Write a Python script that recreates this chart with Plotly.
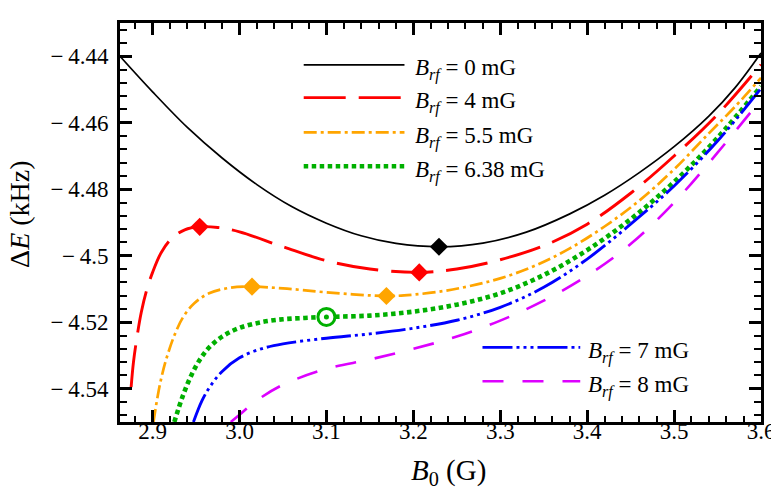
import plotly.graph_objects as go

FONT = "Liberation Serif"

# values (B0 in G, Delta E in kHz)
B0_X = [2.8625, 2.90, 2.94, 2.98, 3.02, 3.06, 3.10, 3.14, 3.18, 3.23,
        3.28, 3.33, 3.38, 3.42, 3.46, 3.50, 3.54, 3.57, 3.60]
B0_Y = [-4.4400, -4.4507, -4.4614, -4.4706, -4.4786, -4.4852, -4.4902, -4.4940, -4.4963, -4.4973,
        -4.4962, -4.4929, -4.4874, -4.4818, -4.4750, -4.4672, -4.4580, -4.4495, -4.4390]

B4_X = [2.8753, 2.878, 2.882, 2.887, 2.893, 2.900, 2.910, 2.922, 2.937, 2.954, 2.975, 3.00,
        3.05, 3.10, 3.15, 3.2068, 3.25, 3.30, 3.35, 3.40, 3.45, 3.50, 3.55, 3.60]
B4_Y = [-4.5395, -4.5320, -4.5245, -4.5170, -4.5105, -4.5050, -4.4990, -4.4948, -4.4922, -4.4913, -4.4915, -4.4928,
        -4.4973, -4.5015, -4.5040, -4.5050, -4.5040, -4.5012, -4.4970, -4.4905, -4.4812, -4.4700, -4.4575, -4.4425]

B55_X = [2.901, 2.906, 2.911, 2.917, 2.925, 2.935, 2.948, 2.965, 2.99, 3.0144, 3.05, 3.10, 3.169,
         3.20, 3.235, 3.265, 3.30, 3.34, 3.38, 3.42, 3.46, 3.50, 3.54, 3.57, 3.60]
B55_Y = [-4.5500, -4.5420, -4.5357, -4.5300, -4.5240, -4.5185, -4.5143, -4.5113, -4.5096, -4.5093, -4.5098, -4.5110, -4.5121,
         -4.5117, -4.5106, -4.5091, -4.5068, -4.5030, -4.4978, -4.4912, -4.4834, -4.4740, -4.4632, -4.4552, -4.4465]

B638_X = [2.925, 2.935, 2.945, 2.955, 2.965, 2.98, 3.00, 3.025, 3.05, 3.075, 3.10,
          3.15, 3.20, 3.25, 3.30, 3.35, 3.40, 3.45, 3.50, 3.55, 3.60]
B638_Y = [-4.5500, -4.5420, -4.5357, -4.5310, -4.5276, -4.5243, -4.5217, -4.5200, -4.5191, -4.5187, -4.5184,
          -4.5180, -4.5168, -4.5147, -4.5113, -4.5058, -4.4983, -4.4890, -4.4778, -4.4645, -4.4490]

B7_X = [2.947, 2.957, 2.967, 2.98, 3.00, 3.025, 3.05, 3.10, 3.15, 3.20, 3.25,
        3.30, 3.35, 3.40, 3.45, 3.50, 3.55, 3.60]
B7_Y = [-4.5500, -4.5435, -4.5390, -4.5348, -4.5307, -4.5280, -4.5265, -4.5248, -4.5235, -4.5218, -4.5194,
        -4.5155, -4.5095, -4.5010, -4.4905, -4.4790, -4.4655, -4.4497]

B8_X = [2.99, 3.00, 3.02, 3.05, 3.10, 3.15, 3.20, 3.25, 3.30, 3.35, 3.40, 3.45, 3.50, 3.55, 3.60]
B8_Y = [-4.5500, -4.5478, -4.5435, -4.5388, -4.5340, -4.5312, -4.5280, -4.5243, -4.5195, -4.5135,
        -4.5060, -4.4965, -4.4840, -4.4690, -4.4530]

# special points on the curves
MIN0_X, MIN0_Y = [3.2295], [-4.4973]
EXT4_X, EXT4_Y = [2.9542, 3.2068], [-4.4913, -4.5050]
EXT55_X, EXT55_Y = [3.0144, 3.1690], [-4.5093, -4.5121]
CRIT_X, CRIT_Y = [3.1], [-4.5184]

LABELS = ['0', '4', '5.5', '6.38', '7', '8']

Y_TICKS = [-4.54, -4.52, -4.50, -4.48, -4.46, -4.44]
Y_TICK_TEXT = ['\u2212\u20094.54', '\u2212\u20094.52', '\u2212\u20094.5',
               '\u2212\u20094.48', '\u2212\u20094.46', '\u2212\u20094.44']

RED = '#ff0000'
ORANGE = '#ffa500'
GREEN = '#00b000'
BLUE = '#0000ff'
MAGENTA = '#dd00ff'

curves = [
    (B0_X, B0_Y, 'black', 1.7, 'solid'),
    (B4_X, B4_Y, RED, 2.9, '42px,13px'),
    (B55_X, B55_Y, ORANGE, 2.7, '13px,4px,3px,4px'),
    (B638_X, B638_Y, GREEN, 4.6, '4.5px,3.5px'),
    (B7_X, B7_Y, BLUE, 2.9, '30px,4px,3px,4px,3px,4px,3px,4px'),
    (B8_X, B8_Y, MAGENTA, 2.6, '21px,19px'),
]

fig = go.Figure()

for x, y, color, width, dash in curves:
    fig.add_trace(go.Scatter(x=x, y=y, mode='lines',
                             line=dict(color=color, width=width, dash=dash, shape='spline', smoothing=1.0),
                             showlegend=False))

fig.add_trace(go.Scatter(x=MIN0_X, y=MIN0_Y, mode='markers',
                         marker=dict(symbol='diamond', size=14, color='black'), showlegend=False))
fig.add_trace(go.Scatter(x=EXT4_X, y=EXT4_Y, mode='markers',
                         marker=dict(symbol='diamond', size=14, color=RED), showlegend=False))
fig.add_trace(go.Scatter(x=EXT55_X, y=EXT55_Y, mode='markers',
                         marker=dict(symbol='diamond', size=14, color=ORANGE), showlegend=False))
fig.add_trace(go.Scatter(x=CRIT_X, y=CRIT_Y, mode='markers',
                         marker=dict(symbol='circle', size=17, color='white',
                                     line=dict(color=GREEN, width=3)), showlegend=False))
fig.add_trace(go.Scatter(x=CRIT_X, y=CRIT_Y, mode='markers',
                         marker=dict(symbol='circle', size=5, color=GREEN), showlegend=False))

# hand-drawn legends (two groups, long line samples like the original)
legend_pos = [(0.2866, 0.4438, 0.457, 0.895), (0.2866, 0.4438, 0.457, 0.813),
              (0.2866, 0.4438, 0.457, 0.726), (0.2866, 0.4438, 0.457, 0.641),
              (0.5655, 0.718, 0.7268, 0.187), (0.5655, 0.718, 0.7268, 0.102)]

for (x0, x1, xt, yy), (_, _, color, width, dash), lab in zip(legend_pos, curves, LABELS):
    fig.add_shape(type='line', xref='paper', yref='paper', x0=x0, x1=x1, y0=yy, y1=yy,
                  line=dict(color=color, width=width, dash=dash))
    fig.add_annotation(xref='paper', yref='paper', x=xt, y=yy - 0.012, xanchor='left', yanchor='middle',
                       text=f'<i>B</i><sub><i>rf</i></sub>\u00a0=\u00a0{lab}\u00a0mG', showarrow=False,
                       font=dict(family=FONT, size=23, color='black'))

fig.add_annotation(xref='paper', yref='paper', x=0.513, y=-0.125, xanchor='center', yanchor='middle',
                   text='<i>B</i><sub>0</sub>\u00a0(G)', showarrow=False,
                   font=dict(family=FONT, size=29, color='black'))
fig.add_annotation(xref='paper', yref='paper', x=-0.157, y=0.52, xanchor='center', yanchor='middle',
                   text='Δ<i>E</i>\u00a0(kHz)', textangle=-90, showarrow=False,
                   font=dict(family=FONT, size=28, color='black'))

axis_common = dict(showline=True, linecolor='black', linewidth=3, mirror='ticks',
                   ticks='inside', tickcolor='black', tickwidth=2.5, ticklen=12,
                   showgrid=False, zeroline=False,
                   tickfont=dict(family=FONT, size=23, color='black'))

fig.update_xaxes(range=[2.8625, 3.6], dtick=0.1, tick0=2.9, tickformat='.1f',
                 minor=dict(dtick=0.02, ticks='inside', ticklen=6, tickwidth=2, tickcolor='black'),
                 ticklabelstandoff=-14, **axis_common)
fig.update_yaxes(range=[-4.55, -4.43], tickvals=Y_TICKS, ticktext=Y_TICK_TEXT,
                 minor=dict(dtick=0.004, tick0=-4.44, ticks='inside', ticklen=7, tickwidth=2, tickcolor='black'),
                 ticklabelstandoff=4, **axis_common)

fig.update_layout(width=779, height=489, margin=dict(l=112, r=18, t=13, b=75),
                  font=dict(family=FONT, color='black'),
                  plot_bgcolor='white', paper_bgcolor='white', showlegend=False)

fig.write_html("out.html")
